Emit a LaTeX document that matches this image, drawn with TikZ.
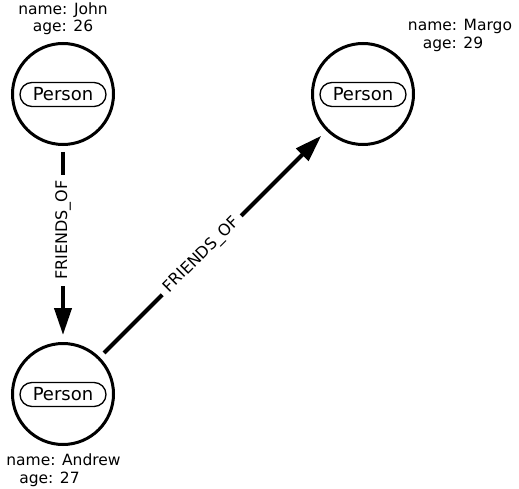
\documentclass[tikz,border=0pt]{standalone}
\usepackage{fontspec}
\setmainfont{DejaVu Sans}
\usetikzlibrary{arrows.meta}
\begin{document}
\begin{tikzpicture}[x=1pt,y=-1pt,
  person/.style={circle,draw,line width=3pt,minimum size=101pt,inner sep=0pt},
  pill/.style={draw,line width=1.3pt,rounded corners=12pt,minimum width=86pt,minimum height=24pt,inner sep=0pt,font=\fontsize{18}{20}\selectfont},
  prop/.style={anchor=base,inner sep=0pt,font=\fontsize{15.5}{18}\selectfont},
  rel/.style={line width=4pt,-{Triangle[length=27pt,width=17pt]},shorten <=6pt,shorten >=7pt},
  rellabel/.style={fill=white,inner xsep=6pt,inner ysep=2pt,font=\fontsize{16}{18}\selectfont}
]
\useasboundingbox (0,0) rectangle (519,489);
% people
\node[person] (john) at (63,94) {};
\node[person] (margo) at (363,94) {};
\node[person] (andrew) at (63,394) {};
\node[pill] (jp) at (63,94.5) {Person};
\node[pill] (mp) at (363,94.5) {Person};
\node[pill] (ap) at (63,394.5) {Person};
% properties
\node[prop] (jname) at (63,15) {name: John};
\node[prop] (jage) at (63,32) {age: 26};
\node[prop] (mname) at (460,31) {name: Margo};
\node[prop] (mage) at (453,49) {age: 29};
\node[prop] (aname) at (63.5,465) {name: Andrew};
\node[prop] (aage) at (49.5,483) {age: 27};
% relationships
\draw[rel] (john) -- node[rellabel,pos=0.43,rotate=90] (r1) {FRIENDS\_OF} (andrew);
\draw[rel] (andrew) -- node[rellabel,pos=0.45,rotate=45] (r2) {FRIENDS\_OF} (margo);
\end{tikzpicture}
\end{document}
